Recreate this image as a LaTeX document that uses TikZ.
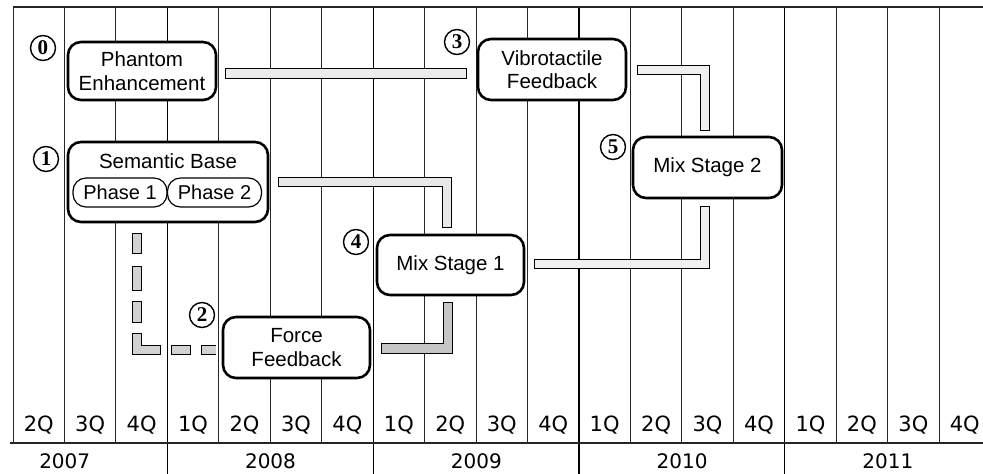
\documentclass[tikz,border=0pt]{standalone}
\usepackage{fontspec}
\setmainfont{Liberation Sans}
\newfontfamily\qfont{DejaVu Sans}
\newfontfamily\numfont{Liberation Serif}
\usetikzlibrary{calc}
\newcommand\fatbar[2]{\draw[barout] #2; \draw[barin, draw=#1] #2;}
\begin{document}
\begin{tikzpicture}[x=1pt,y=-1pt,
  gridline/.style={line width=0.9pt, draw=black!85},
  yearline/.style={line width=1.3pt, draw=black},
  stage/.style={draw=black, line width=2.6pt, fill=white, rounded corners=13pt,
    align=center, inner sep=0pt, font=\fontsize{20.5}{23.5}\selectfont},
  phase/.style={draw=black, line width=1.2pt, fill=white, rounded corners=13pt,
    inner sep=0pt, minimum width=94pt, minimum height=29pt, font=\fontsize{20}{23}\selectfont},
  circ/.style={circle, draw=black, line width=1.4pt, fill=white, minimum size=25pt,
    inner sep=0pt, font=\numfont\bfseries\fontsize{21}{21}\selectfont},
  qlabel/.style={anchor=base, inner sep=0pt, font=\qfont\fontsize{21}{21}\selectfont},
  ylabel/.style={anchor=base, inner sep=0pt, font=\qfont\fontsize{20}{20}\selectfont},
  barout/.style={line width=10.5pt, draw=black, line join=miter},
  barin/.style={line width=8.5pt, shorten <=1pt, shorten >=1pt, line join=miter}]
\useasboundingbox (0,0) rectangle (983,474);
\fill[white] (0,0) rectangle (983,474);
% grid
\foreach \k in {0,...,18}
  \draw[gridline] (13+51.45*\k,7) -- (13+51.45*\k,443);
\foreach \k in {3,7,11,15}
  \draw[yearline] (13+51.45*\k,7) -- (13+51.45*\k,474);
\draw[gridline, line width=1.1pt] (13,7) -- (983,7);
\draw[gridline, line width=1.1pt] (10,443) -- (983,443);
\foreach \q [count=\i from 0] in {2Q,3Q,4Q,1Q,2Q,3Q,4Q,1Q,2Q,3Q,4Q,1Q,2Q,3Q,4Q,1Q,2Q,3Q,4Q}
  \node[qlabel] at (13+51.45*\i+25.7,431) {\q};
\foreach \yr [count=\i from 0] in {2007,2008,2009,2010,2011}
  \node[ylabel] at (64.7+205.8*\i,468) {\yr};
% stages
\node[stage, minimum width=148pt, minimum height=58pt] (pe) at (142,71) {Phantom\\Enhancement};
\node[stage, minimum width=200pt, minimum height=80pt] (sb) at (168,182) {};
\node[inner sep=0pt, font=\fontsize{20.5}{23}\selectfont] (sbt) at ($(sb.north)+(0,20)$) {Semantic Base};
\node[phase] (p1) at (120,192.5) {Phase 1};
\node[phase] (p2) at (214.5,192.5) {Phase 2};
\node[stage, minimum width=148pt, minimum height=61pt] (vf) at (552,69.5) {Vibrotactile\\Feedback};
\node[stage, minimum width=149pt, minimum height=61pt] (ms2) at (707.5,167.5) {Mix Stage 2};
\node[stage, minimum width=147pt, minimum height=60pt] (ms1) at (450.5,265) {Mix Stage 1};
\node[stage, minimum width=147pt, minimum height=61pt] (ff) at (296.5,347.5) {Force\\Feedback};
% circled numbers
\node[circ] (c0) at (43,48) {0};
\node[circ] (c1) at (46,159) {1};
\node[circ] (c2) at (202,315) {2};
\node[circ] (c3) at (457,42) {3};
\node[circ] (c4) at (356,242) {4};
\node[circ] (c5) at (613,147) {5};
% connectors
\coordinate (b1s) at ($(pe.east)+(8,2.5)$);
\coordinate (b1e) at ($(vf.west)+(-10,0)$);
\fatbar{gray!15}{(b1s) -- (b1s -| b1e)}
\fatbar{gray!18}{($(sb.east)+(9,0)$) -| ($(ms1.north)+(-3.5,-6)$)}
\fatbar{gray!12}{($(vf.east)+(10,0.5)$) -| ($(ms2.north)+(-2.5,-5)$)}
\fatbar{gray!12}{($(ms1.east)+(9,-1)$) -| ($(ms2.south)+(-2.5,7)$)}
\fatbar{gray!45}{($(ff.east)+(10,1)$) -| ($(ms1.south)+(-2.5,6)$)}
\coordinate (d1) at ($(sb.south)+(-31,10)$);
\coordinate (d2) at ($(ff.west)+(-6,2.5)$);
\draw[barout, dash pattern=on 21pt off 12pt on 25pt off 10pt on 22pt off 10pt on 41pt off 10pt on 20pt off 10pt on 17pt off 30pt] (d1) |- (d2);
\draw[line width=8.5pt, draw=gray!35, line join=miter, dash pattern=on 19pt off 14pt on 23pt off 12pt on 20pt off 12pt on 39pt off 12pt on 18pt off 12pt on 15pt off 32pt, dash phase=227pt] (d1) |- (d2);
\end{tikzpicture}
\end{document}
